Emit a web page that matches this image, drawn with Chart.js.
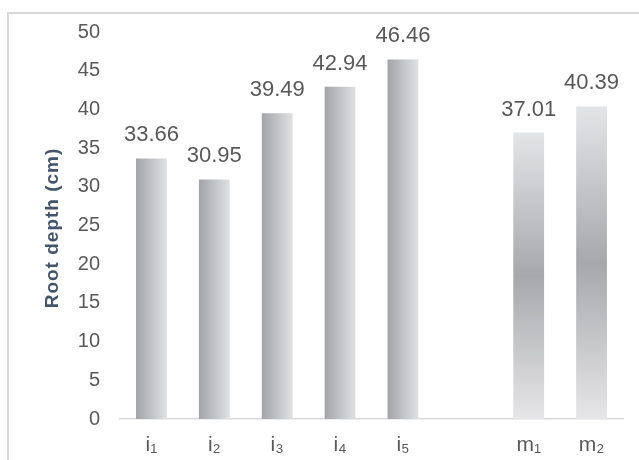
<!DOCTYPE html>
<html>
<head>
<meta charset="utf-8">
<script src="https://cdn.jsdelivr.net/npm/chart.js@4"></script>
<style>
html,body{margin:0;padding:0;background:#fff;}
#wrap{width:639px;height:460px;position:relative;}
</style>
</head>
<body>
<div id="wrap"><canvas id="c" width="639" height="460"></canvas></div>
<script>
// Data
const categories = ['i\u2081','i\u2082','i\u2083','i\u2084','i\u2085','','m\u2081','m\u2082'];
const rootDepth = [33.66, 30.95, 39.49, 42.94, 46.46, null, 37.01, 40.39];
const groups = ['i','i','i','i','i','','m','m'];
const yTicks = [0,5,10,15,20,25,30,35,40,45,50];

const TEXT = '#595959';
const BAR_PCT = 0.49;

function barFill(c) {
  const chart = c.chart;
  const i = c.dataIndex;
  const xs = chart.scales.x, ys = chart.scales.y;
  if (!chart.chartArea || !xs || !ys || rootDepth[i] == null) return '#c0c0c0';
  const ctx = chart.ctx;
  const cx = xs.getPixelForValue(i);
  const w = (xs.width / categories.length) * BAR_PCT;
  const top = ys.getPixelForValue(rootDepth[i]);
  const base = ys.getPixelForValue(0);
  let g;
  if (groups[i] === 'i') {
    g = ctx.createLinearGradient(cx - w / 2, 0, cx + w / 2, 0);
    g.addColorStop(0, '#a3a4a7');
    g.addColorStop(1, '#e0e1e3');
  } else {
    g = ctx.createLinearGradient(0, top, 0, base);
    g.addColorStop(0, '#e4e5e7');
    g.addColorStop(0.5, '#a7a8ab');
    g.addColorStop(1, '#e6e6e8');
  }
  return g;
}

const labelPlugin = {
  id: 'labels',
  afterDatasetsDraw(chart) {
    const ctx = chart.ctx;
    const meta = chart.getDatasetMeta(0);
    ctx.save();
    ctx.font = '22px "Liberation Sans", Arial, sans-serif';
    ctx.fillStyle = TEXT;
    ctx.textAlign = 'center';
    ctx.textBaseline = 'alphabetic';
    meta.data.forEach((el, i) => {
      if (rootDepth[i] == null) return;
      ctx.fillText(rootDepth[i].toFixed(2), el.x, el.y - 17);
    });
    ctx.restore();
  },
  beforeDraw(chart) {
    const ctx = chart.ctx;
    ctx.save();
    ctx.fillStyle = '#fff';
    ctx.fillRect(0, 0, chart.width, chart.height);
    ctx.strokeStyle = '#d9d9d9';
    ctx.lineWidth = 2;
    ctx.beginPath();
    ctx.moveTo(8, 460);
    ctx.lineTo(8, 13);
    ctx.lineTo(639, 13);
    ctx.stroke();
    ctx.restore();
  },
  afterDraw(chart) {
    const ctx = chart.ctx;
    ctx.save();
    ctx.translate(53, 228);
    ctx.rotate(-Math.PI / 2);
    ctx.font = 'bold 19px "Liberation Sans", Arial, sans-serif';
    try { ctx.letterSpacing = '1px'; } catch (e) {}
    ctx.fillStyle = '#44546a';
    ctx.textAlign = 'center';
    ctx.textBaseline = 'middle';
    ctx.fillText('Root depth (cm)', 0, 0);
    ctx.restore();
  }
};

new Chart(document.getElementById('c'), {
  type: 'bar',
  data: {
    labels: categories,
    datasets: [{
      data: rootDepth,
      backgroundColor: barFill,
      borderWidth: 0,
      categoryPercentage: 1.0,
      barPercentage: BAR_PCT
    }]
  },
  options: {
    responsive: false,
    animation: false,
    devicePixelRatio: 1,
    layout: { padding: { top: 31, right: 16, left: 0, bottom: 0 } },
    plugins: { legend: { display: false }, tooltip: { enabled: false }, title: { display: false } },
    scales: {
      x: {
        grid: { display: false, drawTicks: false },
        border: { display: true, color: '#d9d9d9', width: 1.5 },
        ticks: { color: TEXT, font: { size: 21, family: '"Liberation Sans", Arial, sans-serif' }, padding: 14, maxRotation: 0 },
        afterFit(s) { s.height = 41; }
      },
      y: {
        min: 0, max: 50,
        afterBuildTicks(s) { s.ticks = yTicks.map(v => ({ value: v })); },
        grid: { display: false, drawTicks: false },
        border: { display: false },
        ticks: { color: TEXT, font: { size: 20, family: '"Liberation Sans", Arial, sans-serif' }, padding: 20 },
        afterFit(s) { s.width = 120; }
      }
    }
  },
  plugins: [labelPlugin]
});
</script>
</body>
</html>
